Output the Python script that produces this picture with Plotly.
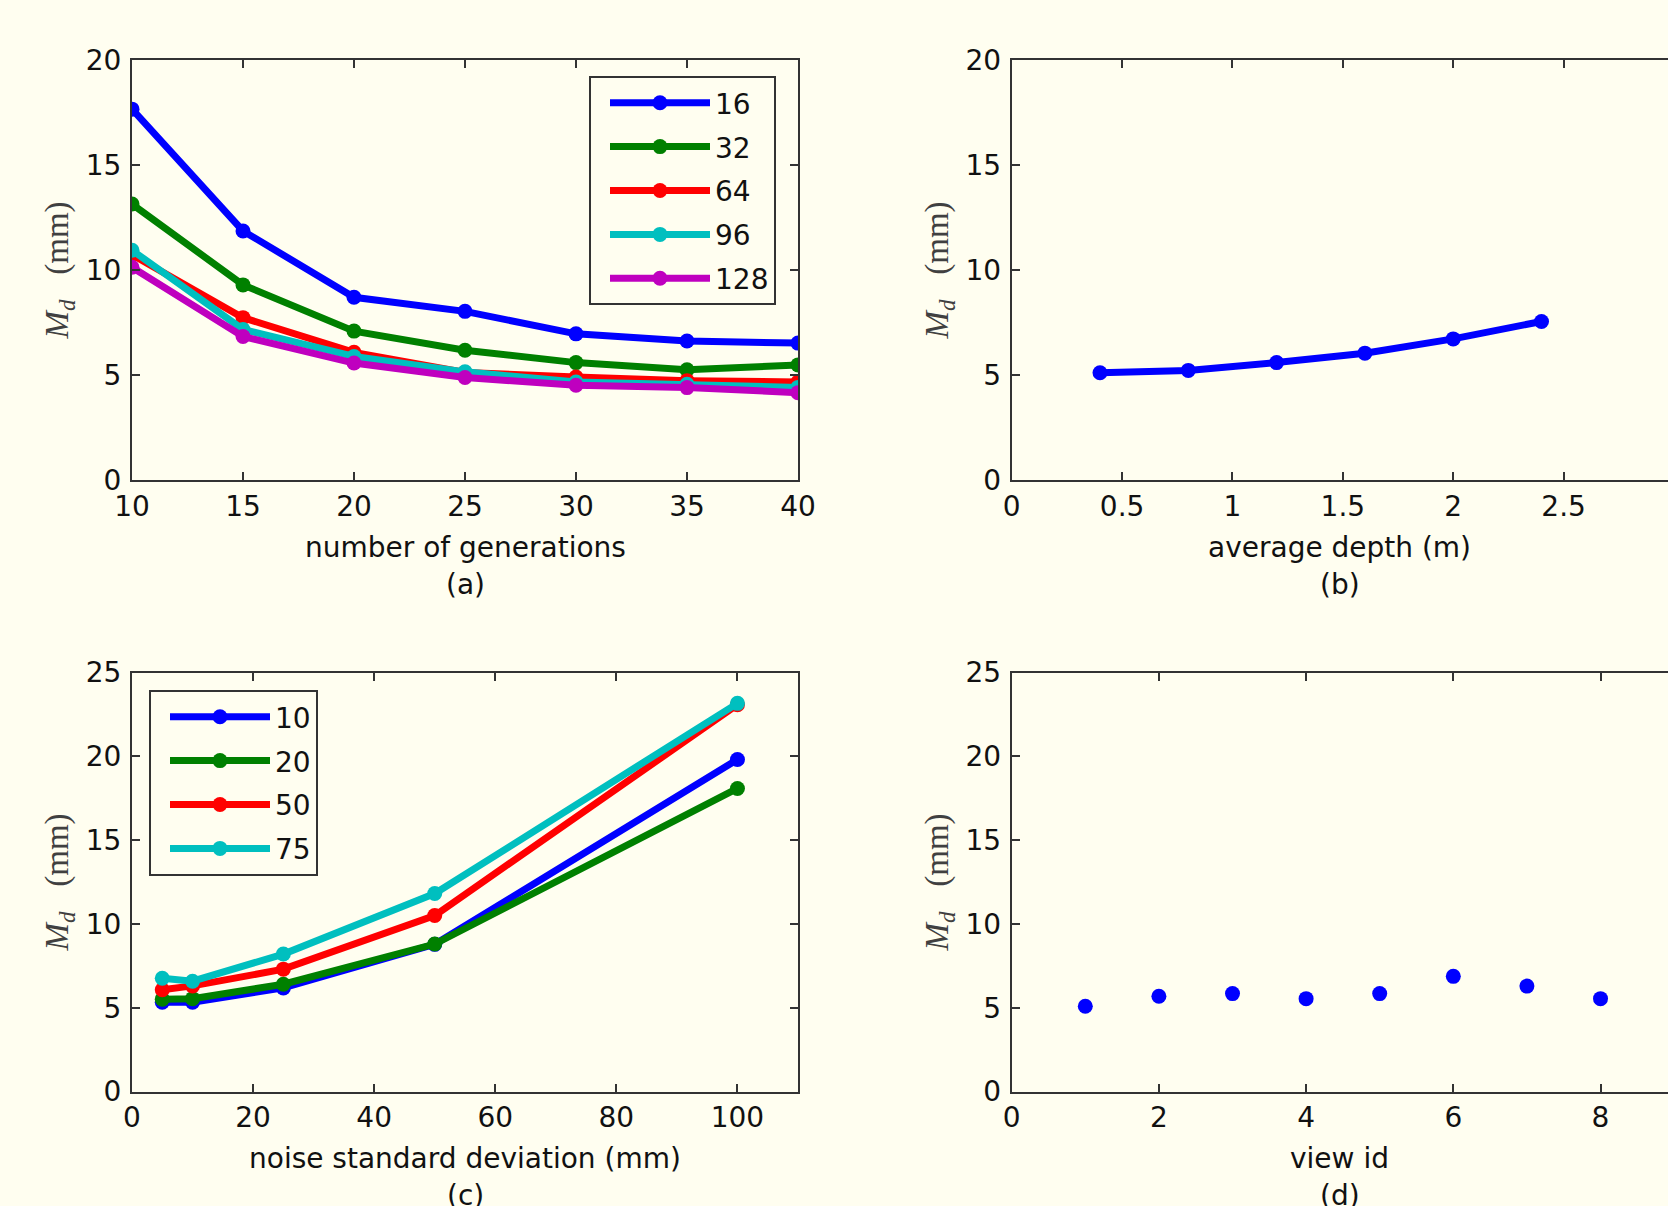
import plotly.graph_objects as go

# ---------------- data ----------------
gen_x = [10, 15, 20, 25, 30, 35, 40]
gen_series_names = ["16", "32", "64", "96", "128"]
gen_16 = [17.66, 11.86, 8.70, 8.03, 6.96, 6.62, 6.52]
gen_32 = [13.14, 9.29, 7.09, 6.18, 5.59, 5.25, 5.48]
gen_64 = [10.73, 7.73, 6.08, 5.12, 4.90, 4.73, 4.67]
gen_96 = [10.94, 7.17, 5.88, 5.15, 4.67, 4.56, 4.41]
gen_128 = [10.13, 6.83, 5.57, 4.88, 4.51, 4.40, 4.16]

depth_x = [0.4, 0.8, 1.2, 1.6, 2.0, 2.4]
depth_y = [5.11, 5.22, 5.59, 6.04, 6.72, 7.55]

noise_x = [5, 10, 25, 50, 100]
noise_series_names = ["10", "20", "50", "75"]
noise_10 = [5.33, 5.33, 6.18, 8.78, 19.81]
noise_20 = [5.51, 5.54, 6.40, 8.80, 18.08]
noise_50 = [6.07, 6.30, 7.30, 10.50, 23.08]
noise_75 = [6.76, 6.58, 8.20, 11.81, 23.16]

view_x = [1, 2, 3, 4, 5, 6, 7, 8]
view_y = [5.09, 5.68, 5.84, 5.54, 5.84, 6.87, 6.29, 5.54]

x_titles = ["number of generations", "average depth (m)",
            "noise standard deviation (mm)", "view id"]
panel_tags = ["(a)", "(b)", "(c)", "(d)"]

# ---------------- style ----------------
BLUE, GREEN, RED, CYAN, MAGENTA = "#0000FF", "#008000", "#FF0000", "#00BFBF", "#BF00BF"
BG = "#FFFEF0"
AX = "#333333"
SANS = "DejaVu Sans, Liberation Sans, Arial, sans-serif"
SERIF = "Liberation Serif, Times New Roman, serif"
FS = 28
LW = 7
MS = 15

fig = go.Figure()

for name, ys, col in zip(gen_series_names, [gen_16, gen_32, gen_64, gen_96, gen_128],
                         [BLUE, GREEN, RED, CYAN, MAGENTA]):
    fig.add_trace(go.Scatter(x=gen_x, y=ys, name=name, mode="lines+markers",
                             line=dict(color=col, width=LW), marker=dict(color=col, size=MS),
                             xaxis="x", yaxis="y", legend="legend", legendgroup="a" + name))

fig.add_trace(go.Scatter(x=depth_x, y=depth_y, mode="lines+markers", showlegend=False,
                         line=dict(color=BLUE, width=LW), marker=dict(color=BLUE, size=MS),
                         xaxis="x2", yaxis="y2"))

for name, ys, col in zip(noise_series_names, [noise_10, noise_20, noise_50, noise_75],
                         [BLUE, GREEN, RED, CYAN]):
    fig.add_trace(go.Scatter(x=noise_x, y=ys, name=name, mode="lines+markers",
                             line=dict(color=col, width=LW), marker=dict(color=col, size=MS),
                             xaxis="x3", yaxis="y3", legend="legend2", legendgroup="c" + name))

fig.add_trace(go.Scatter(x=view_x, y=view_y, mode="markers", showlegend=False,
                         marker=dict(color=BLUE, size=15),
                         xaxis="x4", yaxis="y4"))

ylabel = "<i>M</i><sub><i>d</i></sub>\u00a0\u00a0\u00a0(mm)"
tickfont = dict(family=SANS, size=FS, color="#111111")
yfont = dict(family=SERIF, size=33, color="#404040")

def xax(dom, anchor, rng, dtick, mirror="ticks"):
    return dict(domain=dom, anchor=anchor, range=rng, dtick=dtick, tick0=0,
                showgrid=False, zeroline=False, showline=True, linecolor=AX, linewidth=2,
                mirror=mirror, ticks="inside", ticklen=8, tickwidth=1.5, tickcolor=AX,
                tickfont=tickfont, ticklabelstandoff=0)

def yax(dom, anchor, rng, dtick, mirror="ticks"):
    return dict(domain=dom, anchor=anchor, range=rng, dtick=dtick, tick0=0,
                showgrid=False, zeroline=False, showline=True, linecolor=AX, linewidth=2,
                mirror=mirror, ticks="inside", ticklen=8, tickwidth=1.5, tickcolor=AX,
                tickfont=tickfont, ticklabelstandoff=3,
                title=dict(text=ylabel, font=yfont, standoff=7))

XL = [132 / 1668, 798 / 1668]
XR = [1011.7 / 1668, 1.0]
YT = [1 - 480 / 1206, 1 - 60 / 1206]
YB = [1 - 1091.5 / 1206, 1 - 672.5 / 1206]

legend_style = dict(xanchor="left", yanchor="top", bgcolor=BG, bordercolor=AX, borderwidth=2,
                    font=dict(family=SANS, size=FS, color="#111111"),
                    itemwidth=100, tracegroupgap=4.5, indentation=14)

fig.update_layout(
    width=1668, height=1206, autosize=False,
    margin=dict(l=0, r=0, t=0, b=0, autoexpand=False),
    paper_bgcolor=BG, plot_bgcolor=BG,
    font=dict(family=SANS, color="#111111"),
    xaxis=xax(XL, "y", [10, 40], 5),
    yaxis=yax(YT, "x", [0, 20], 5),
    xaxis2=xax(XR, "y2", [0, 2.973], 0.5),
    yaxis2=yax(YT, "x2", [0, 20], 5, mirror=False),
    xaxis3=xax(XL, "y3", [0, 110], 20),
    yaxis3=yax(YB, "x3", [0, 25], 5),
    xaxis4=xax(XR, "y4", [0, 8.917], 2),
    yaxis4=yax(YB, "x4", [0, 25], 5, mirror=False),
    legend=dict(x=589 / 1668, y=1 - 76 / 1206, **legend_style),
    legend2=dict(x=149 / 1668, y=1 - 690 / 1206, **legend_style),
)

# x-axis titles and panel tags, placed under each axes
axis_ids = [("x", "y"), ("x2", "y2"), ("x3", "y3"), ("x4", "y4")]
for (xa, ya), title, tag in zip(axis_ids, x_titles, panel_tags):
    for text, shift in ((title, -67), (tag, -104)):
        fig.add_annotation(text=text, xref=xa + " domain", yref=ya + " domain",
                           x=0.5, y=0, xanchor="center", yanchor="middle", yshift=shift,
                           showarrow=False, font=dict(family=SANS, size=FS, color="#111111"))

fig.write_html(
    "out.html",
    config={"displayModeBar": False},
    post_script=("document.body.style.margin='0px';document.body.style.padding='0px';"
                 "document.body.style.overflow='hidden';"
                 "document.documentElement.style.background='#FFFEF0';"),
)
